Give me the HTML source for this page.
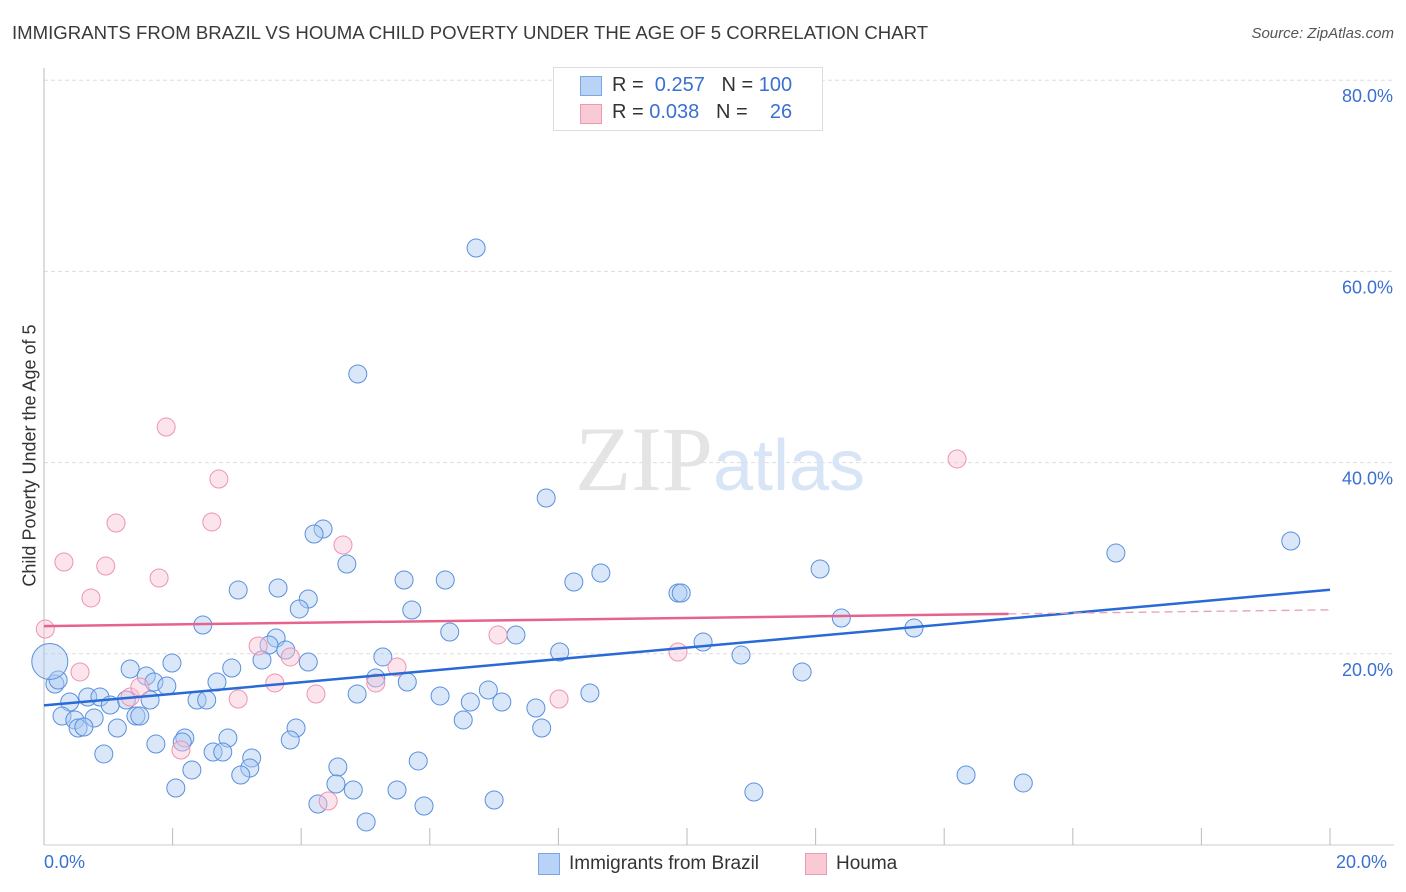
<!DOCTYPE html>
<html><head><meta charset="utf-8"><style>
body{margin:0;background:#fff;font-family:"Liberation Sans",sans-serif;}
#wrap{position:relative;width:1406px;height:892px;overflow:hidden}
.t{position:absolute;white-space:nowrap}
</style></head><body>
<div id="wrap">
<div class="t" style="left:12px;top:22px;font-size:18.6px;color:#3a3a3a">IMMIGRANTS FROM BRAZIL VS HOUMA CHILD POVERTY UNDER THE AGE OF 5 CORRELATION CHART</div>
<div class="t" style="right:12px;top:25px;font-size:15px;color:#555;font-style:italic">Source: ZipAtlas.com</div>
<svg id="plot" width="1406" height="892" style="position:absolute;left:0;top:0"></svg>
<div class="t" style="left:553px;top:67px;width:268px;height:62px;border:1px solid #ddd;background:#fff">
 <div style="position:absolute;left:26px;top:8px;width:20px;height:18px;background:#b8d3f5;border:1px solid #7aa7e0"></div>
 <div style="position:absolute;left:58px;top:6px;font-size:20px;color:#333">R = <span style="color:#3a70d0">&nbsp;0.257</span>&nbsp;&nbsp;&nbsp;N = <span style="color:#3a70d0">100</span></div>
 <div style="position:absolute;left:26px;top:36px;width:20px;height:18px;background:#f9c9d6;border:1px solid #ec9ab2"></div>
 <div style="position:absolute;left:58px;top:33px;font-size:20px;color:#333">R = <span style="color:#3a70d0">0.038</span>&nbsp;&nbsp;&nbsp;N = <span style="color:#3a70d0">&nbsp;&nbsp;&nbsp;26</span></div>
</div>
<div class="t" style="left:-110px;top:445px;transform:rotate(-90deg);width:280px;text-align:center;font-size:18px;color:#333">Child Poverty Under the Age of 5</div>
<div class="t" style="left:44px;top:852px;font-size:18px;color:#3a70d0">0.0%</div>
<div class="t" style="left:1336px;top:852px;font-size:18px;color:#3a70d0">20.0%</div>
<div class="t" style="left:538px;top:853px;width:20px;height:20px;background:#b8d3f5;border:1px solid #7aa7e0"></div>
<div class="t" style="left:569px;top:853px;font-size:19px;color:#333">Immigrants from Brazil</div>
<div class="t" style="left:805px;top:853px;width:20px;height:20px;background:#f9c9d6;border:1px solid #ec9ab2"></div>
<div class="t" style="left:836px;top:853px;font-size:19px;color:#333">Houma</div>
</div>
<script>
const yTicks=[20,40,60,80];
const yTickLabels=["20.0%","40.0%","60.0%","80.0%"];
const bluePx=[[476,248],[358,374],[546,498],[323,529],[314,534],[347,564],[238,590],[278,588],[404,580],[445,580],[574,582],[601,573],[308,599],[299,609],[412,610],[203,625],[450,632],[516,635],[276,638],[269,645],[560,652],[286,650],[308,662],[262,660],[383,657],[172,663],[130,669],[232,668],[146,676],[154,682],[167,686],[217,682],[376,678],[407,682],[488,690],[357,694],[440,696],[470,702],[502,702],[590,693],[536,708],[88,697],[100,697],[126,700],[150,700],[197,700],[207,700],[110,705],[70,702],[62,716],[75,720],[94,718],[136,716],[140,716],[117,728],[78,728],[84,727],[296,728],[463,720],[542,728],[290,740],[156,744],[185,738],[228,738],[182,742],[213,752],[223,752],[104,754],[252,758],[192,770],[250,768],[241,775],[338,767],[418,761],[176,788],[336,784],[353,790],[397,790],[318,804],[424,806],[494,800],[366,822],[678,593],[681,593],[703,642],[741,655],[820,569],[841,618],[802,672],[914,628],[1116,553],[1291,541],[966,775],[1023,783],[754,792],[55,684],[58,680]];
const pinkPx=[[45,629],[64,562],[80,672],[91,598],[106,566],[116,523],[130,697],[140,687],[159,578],[166,427],[181,750],[212,522],[219,479],[238,699],[258,646],[275,683],[290,657],[316,694],[328,801],[343,545],[376,683],[397,667],[498,635],[559,699],[678,652],[957,459]];
const blueX=bluePx.map(p=>+((p[0]-44)/64.3).toFixed(2));
const blueY=bluePx.map(p=>+((845-p[1])/9.56).toFixed(2));
const pinkX=pinkPx.map(p=>+((p[0]-44)/64.3).toFixed(2));
const pinkY=pinkPx.map(p=>+((845-p[1])/9.56).toFixed(2));
const bigX=[0.09], bigY=[19.2];
const blueTrend=[14.6,26.7];
const pinkTrend=[22.9,24.6];
const X=v=>44+v*64.3, Y=v=>845-v*9.56;
const svg=document.getElementById('plot');
const NS='http://www.w3.org/2000/svg';
function mk(t,a){const e=document.createElementNS(NS,t);for(const k in a)e.setAttribute(k,a[k]);svg.appendChild(e);return e;}
yTicks.forEach((v,i)=>{
 const g=mk('line',{x1:44,x2:1394,y1:Y(v),y2:Y(v),stroke:'#ddd','stroke-dasharray':'4,3'});
 
 
 const t=mk('text',{x:1393,y:Y(v)+22,'text-anchor':'end','font-size':18,fill:'#3a70d0','font-family':'Liberation Sans'});
 t.textContent=yTickLabels[i];
 
 
});
const ax=mk('line',{x1:44,x2:44,y1:68,y2:845,stroke:'#bbb'});


const bx=mk('line',{x1:44,x2:1394,y1:845,y2:845,stroke:'#ccc'});


for(let i=1;i<=10;i++){const l=mk('line',{x1:X(i*2),x2:X(i*2),y1:828,y2:845,stroke:'#bbb'});
 
 }
const wm=mk('text',{x:720,y:490,'text-anchor':'middle','font-size':92,fill:'#e4e4e4','font-family':'Liberation Serif'});
wm.innerHTML='ZIP<tspan fill="#d8e5f6" font-family="Liberation Sans" font-size="72">atlas</tspan>';


blueX.forEach((x,i)=>{const c=mk('circle',{cx:X(x),cy:Y(blueY[i]),r:9,fill:'rgba(170,202,242,0.45)',stroke:'#5a90de','stroke-width':1});
 
 });
bigX.forEach((x,i)=>{const c=mk('circle',{cx:X(x),cy:Y(bigY[i]),r:18,fill:'rgba(170,202,242,0.45)',stroke:'#5a90de','stroke-width':1});
 
 });
pinkX.forEach((x,i)=>{const c=mk('circle',{cx:X(x),cy:Y(pinkY[i]),r:9,fill:'rgba(248,196,212,0.45)',stroke:'#ee94b0','stroke-width':1});
 
 });
const bl=mk('line',{x1:X(0),y1:Y(blueTrend[0]),x2:X(20),y2:Y(blueTrend[1]),stroke:'#2a6ad6','stroke-width':2.5});


const pm=pinkTrend[0]+(pinkTrend[1]-pinkTrend[0])*0.75;
const pl=mk('line',{x1:X(0),y1:Y(pinkTrend[0]),x2:X(15),y2:Y(pm),stroke:'#e6648c','stroke-width':2.5});


const pd=mk('line',{x1:X(15),y1:Y(pm),x2:X(20),y2:Y(pinkTrend[1]),stroke:'#e6a0b6','stroke-width':1.3,'stroke-dasharray':'8,5'});


</script>
</body></html>
